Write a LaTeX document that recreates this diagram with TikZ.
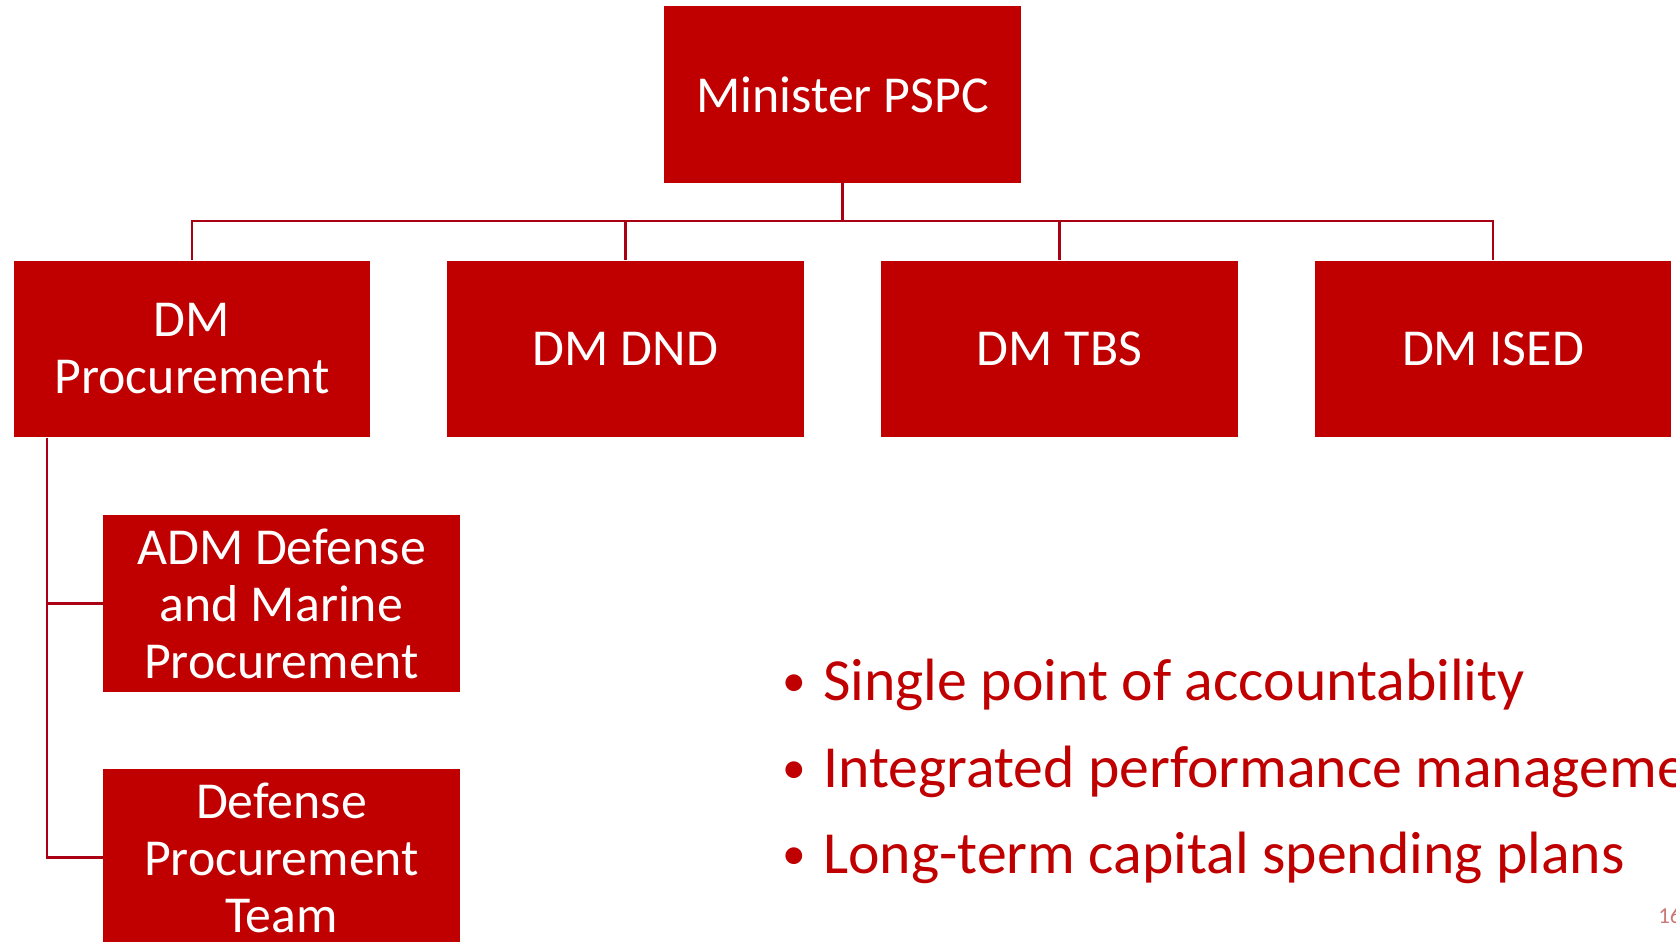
\documentclass[tikz,border=0pt]{standalone}
\usepackage{fontspec}
\setmainfont{Carlito}
\usetikzlibrary{calc}
\definecolor{boxred}{HTML}{C00000}
\definecolor{linered}{RGB}{170,0,20}
\definecolor{pagered}{RGB}{205,120,120}
\newcommand{\dotmark}{\makebox[0.82cm][l]{\raisebox{2pt}{\fontsize{27}{30}\selectfont •}}}
\begin{document}
\begin{tikzpicture}[x=0.02cm,y=-0.02cm]

    \tikzset{
      unit/.style={
        fill=boxred,
        text=white,
        align=center,
        inner sep=0pt,
        minimum width=7.14cm,
        minimum height=3.54cm,
        font=\fontsize{29.5}{32.4}\selectfont,
      },
      link/.style={
        draw=linered,
        line width=1.2pt,
      },
      point/.style={
        anchor=base west,
        inner sep=0pt,
        text=boxred,
        font=\fontsize{34}{40}\selectfont,
      },
    }
    \useasboundingbox (0,0) rectangle (1676,942);
    \clip (0,0) rectangle (1676,942);

	\node[unit] (min) at (842.5,94.5) {Minister PSPC};

	\node[unit] (dmp) at (192,349) {DM\\Procurement};
	\node[unit] (dnd) at (625.5,349) {DM DND};
	\node[unit] (tbs) at (1059.5,349) {DM TBS};
	\node[unit] (ised) at (1493,349) {DM ISED};

	\node[unit] (adm) at (281.5,603.5) {ADM Defense\\and Marine\\Procurement};
	\node[unit] (dpt) at (281.5,857.5) {Defense\\Procurement\\Team};

	\foreach \dm in {dmp,dnd,tbs,ised}
	  \draw[link] (min.south) -- ++(0,38) -| (\dm.north);

	\coordinate (trunk) at ($(dmp.south west)+(34,0)$);
	\draw[link] (trunk) |- (adm.west);
	\draw[link] (trunk) |- (dpt.west);

	\node[point] (acc) at (782,700) {\dotmark Single point of accountability};
	\node[point] (perf) at (782,787) {\dotmark Integrated performance management};
	\node[point] (plan) at (782,873) {\dotmark Long-term capital spending plans};

	\node[anchor=base west,inner sep=0pt,text=pagered,font=\fontsize{13}{15}\selectfont] (page) at (1658,923) {16};

\end{tikzpicture}
\end{document}
